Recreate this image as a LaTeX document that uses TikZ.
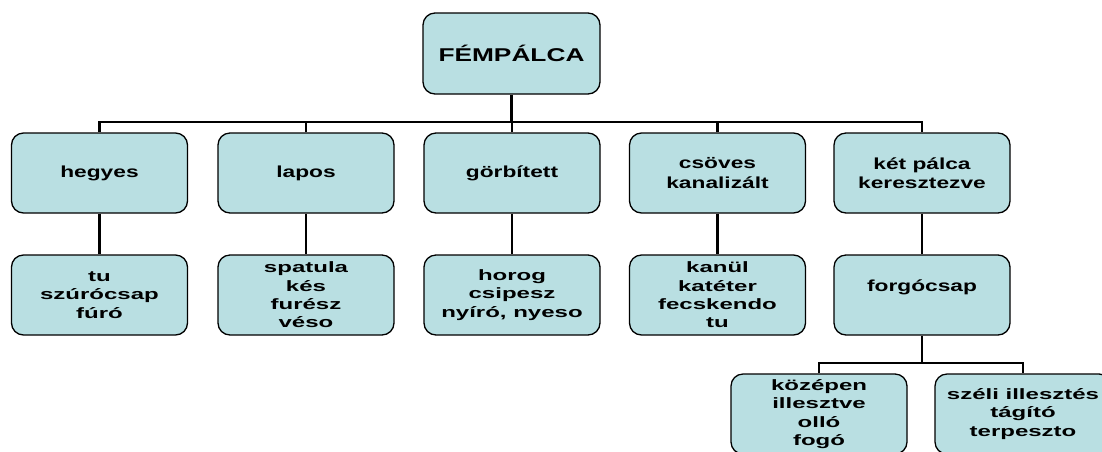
\documentclass[tikz,border=0pt]{standalone}
\usepackage{fontspec}
\setmainfont{Liberation Sans}
\newfontfamily\headfont{Liberation Sans}[FakeStretch=1.42]
\newfontfamily\itemfont{Liberation Sans}[FakeStretch=1.6]
\usetikzlibrary{positioning}
\definecolor{boxblue}{RGB}{185,223,226}
\tikzset{
  box/.style={draw=black, line width=1.3pt, fill=boxblue, rounded corners=12pt,
    minimum width=176pt, minimum height=80pt, inner sep=0pt, align=center},
  headtext/.style={font=\headfont\bfseries\fontsize{16}{19.5}\selectfont},
  itemtext/.style={font=\itemfont\bfseries\fontsize{15}{18.3}\selectfont},
  link/.style={line width=2.6pt}
}

\begin{document}
\begin{tikzpicture}[x=1pt,y=-1pt]
\clip (0,0) rectangle (1102,451);

\node[box, minimum width=177pt, minimum height=81pt, font=\headfont\bfseries\fontsize{18.5}{22}\selectfont] (femp) at (511.5,53.5) {FÉMPÁLCA};

\node[box, headtext] (hegyes) at (99.5,173) {hegyes};
\node[box, headtext] (lapos) at (306,173) {lapos};
\node[box, headtext] (gorb) at (512,173) {görbített};
\node[box, headtext] (csoves) at (717.5,173) {csöves\\kanalizált};
\node[box, headtext] (ketpalca) at (922,173) {két pálca\\keresztezve};

\node[box, itemtext] (tu) at (99.5,295) {tu\\szúrócsap\\fúró};
\node[box, itemtext] (spatula) at (306,295) {spatula\\kés\\furész\\véso};
\node[box, itemtext] (horog) at (512,295) {horog\\csipesz\\nyíró, nyeso};
\node[box, itemtext] (kanul) at (717.5,295) {kanül\\katéter\\fecskendo\\tu};
\node[box, headtext] (forgo) at (922,295) {forgócsap\\\mbox{}};

\node[box, itemtext] (kozepen) at (819,414) {középen\\illesztve\\olló\\fogó};
\node[box, itemtext] (szeli) at (1023,414) {széli illesztés\\tágító\\terpeszto};

% first level
\coordinate (bus) at (511.5,122);
\draw[link] (femp.south) -- (bus);
\draw[link] (hegyes.north) |- (bus) -| (ketpalca.north);
\draw[link] (lapos.north) -- (lapos.north |- bus);
\draw[link] (gorb.north) -- (gorb.north |- bus);
\draw[link] (csoves.north) -- (csoves.north |- bus);

% second level
\draw[link] (hegyes) -- (tu);
\draw[link] (lapos) -- (spatula);
\draw[link] (gorb) -- (horog);
\draw[link] (csoves) -- (kanul);
\draw[link] (ketpalca) -- (forgo);

% forgocsap
\coordinate (bus2) at (922,363);
\draw[link] (forgo.south) -- (bus2);
\draw[link] (kozepen.north) |- (bus2) -| (szeli.north);

\end{tikzpicture}
\end{document}
